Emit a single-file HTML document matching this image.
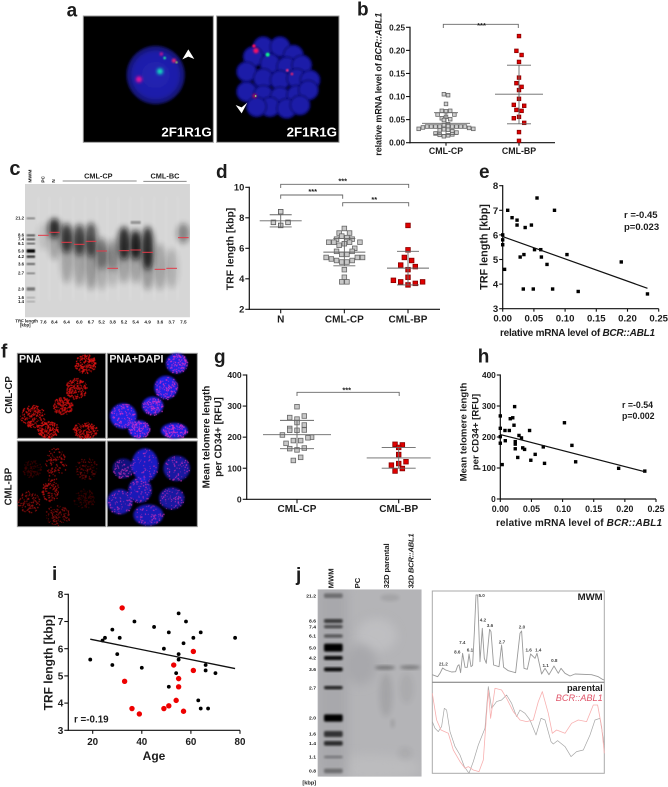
<!DOCTYPE html>
<html lang="en">
<head>
<meta charset="utf-8">
<title>Multi-panel telomere figure</title>
<style>
html,body{margin:0;padding:0;background:#fff;}
svg{display:block;font-family:"Liberation Sans",sans-serif;font-weight:bold;fill:#1c1c1c;}
</style>
</head>
<body>
<svg id="fig" xmlns="http://www.w3.org/2000/svg" width="668" height="787" viewBox="0 0 668 787">
<defs>
<filter id="b1" x="-10%" y="-10%" width="120%" height="120%"><feGaussianBlur stdDeviation="1"/></filter>
<filter id="b2" x="-30%" y="-30%" width="160%" height="160%"><feGaussianBlur stdDeviation="2"/></filter>
<filter id="b3" x="-30%" y="-30%" width="160%" height="160%"><feGaussianBlur stdDeviation="3"/></filter>
<filter id="b5" x="-40%" y="-40%" width="180%" height="180%"><feGaussianBlur stdDeviation="5"/></filter>
<filter id="b9" x="-100%" y="-60%" width="300%" height="220%"><feGaussianBlur stdDeviation="9"/></filter>
<filter id="b14" x="-80%" y="-40%" width="260%" height="180%"><feGaussianBlur stdDeviation="14"/></filter>
<radialGradient id="nuc"><stop offset="0" stop-color="#2222b4"/><stop offset=".75" stop-color="#1e1ea8"/><stop offset="1" stop-color="#101060"/></radialGradient>
<clipPath id="clipC"><rect x="75" y="72" width="495" height="400"/></clipPath>
<clipPath id="clipJ"><rect x="143" y="103" width="312" height="562"/></clipPath>
<clipPath id="clipAL"><rect x="250" y="48" width="390" height="379"/></clipPath>
<clipPath id="clipAR"><rect x="650" y="48" width="367" height="379"/></clipPath>
</defs>

<!-- PANEL A -->
<g id="panelA" transform="scale(0.3333)">
<text x="200" y="50" font-size="57">a</text>
<g clip-path="url(#clipAL)">
<rect x="250" y="48" width="390" height="379" fill="#000"/>
<circle cx="467" cy="225" r="88" fill="url(#nuc)" filter="url(#b3)"/>
<circle cx="417" cy="238" r="9" fill="#ff109a" filter="url(#b5)"/>
<circle cx="480" cy="214" r="9" fill="#10f0c0" filter="url(#b5)"/>
<circle cx="484" cy="162" r="5" fill="#d01090" filter="url(#b3)"/>
<circle cx="494" cy="174" r="4" fill="#20e0a0" filter="url(#b2)"/>
<circle cx="522" cy="182" r="6" fill="#ff2070" filter="url(#b3)"/>
<circle cx="530" cy="187" r="3" fill="#b0ff50" filter="url(#b2)"/>
<polygon points="565,148 583,177 565,170 547,178" fill="#fff"/>
</g>
<rect x="250" y="48" width="390" height="379" fill="none" stroke="#999" stroke-width="3"/>
<text x="484" y="410" font-size="40" fill="#fff">2F1R1G</text>
<g clip-path="url(#clipAR)">
<rect x="650" y="48" width="367" height="379" fill="#000"/>
<g id="blobs" filter="url(#b3)"></g>
<circle cx="768" cy="152" r="8" fill="#ff1060" filter="url(#b3)"/>
<circle cx="762" cy="138" r="5" fill="#ff1060" filter="url(#b2)"/>
<circle cx="803" cy="164" r="6" fill="#10f090" filter="url(#b2)"/>
<circle cx="862" cy="211" r="4" fill="#ff3080" filter="url(#b2)"/>
<circle cx="876" cy="222" r="4" fill="#e02070" filter="url(#b2)"/>
<circle cx="764" cy="288" r="7" fill="#a01060" filter="url(#b3)"/>
<circle cx="767" cy="288" r="2.5" fill="#80ff80" filter="url(#b1)"/>
<polygon points="725,340 707,315 725,322 742,308" fill="#fff"/>
</g>
<rect x="650" y="48" width="367" height="379" fill="none" stroke="#999" stroke-width="3"/>
<text x="860" y="410" font-size="40" fill="#fff">2F1R1G</text>
</g>

<!-- PANEL B -->
<g id="panelB">
<text x="357" y="15.7" font-size="19">b</text>
<text transform="translate(381.7,155.7) rotate(-90)" font-size="9" textLength="143">relative mRNA level of <tspan font-style="italic">BCR::ABL1</tspan></text>
</g>

<!-- PANEL C -->
<g id="panelC" transform="translate(0,160) scale(0.3333)">
<text x="28" y="45" font-size="60">c</text>
<g clip-path="url(#clipC)" id="gelC">
<rect x="75" y="72" width="495" height="400" fill="#d6d6d6"/>
</g>
<g font-size="14" text-anchor="middle">
<text transform="translate(94,68) rotate(-90)" text-anchor="start" font-size="15">MWM</text>
<text transform="translate(134,68) rotate(-90)" text-anchor="start">PC</text>
<text transform="translate(165,68) rotate(-90)" text-anchor="start">N</text>
<text x="295" y="55" font-size="22">CML-CP</text>
<text x="495" y="55" font-size="22">CML-BC</text>
</g>
<line x1="188" y1="63" x2="410" y2="63" stroke="#888" stroke-width="3"/>
<line x1="430" y1="64" x2="560" y2="64" stroke="#888" stroke-width="3"/>
<text x="46" y="487" font-size="13">TRF length</text>
<text x="60" y="500" font-size="13">[kbp]</text>
</g>

<!-- PANEL D -->
<g id="panelD">
<text x="216" y="178" font-size="19">d</text>
<text transform="translate(233.5,249) rotate(-90)" font-size="10.4" text-anchor="middle">TRF length [kbp]</text>
</g>

<!-- PANEL E -->
<g id="panelE">
<text x="479" y="178" font-size="19">e</text>
<text transform="translate(487.5,247) rotate(-90)" font-size="10.8" text-anchor="middle">TRF length [kbp]</text>
<text x="500" y="336" font-size="10" textLength="155">relative mRNA level of <tspan font-style="italic">BCR::ABL1</tspan></text>
<text x="624" y="218" font-size="9.5">r =-0.45</text>
<text x="624" y="230" font-size="9.5">p=0.023</text>
</g>

<!-- PANEL F -->
<g id="panelF" transform="translate(0,335) scale(0.3333)">
<text x="3" y="68" font-size="57">f</text>
<rect x="52" y="55" width="265" height="255" fill="#000" stroke="#999" stroke-width="3"/>
<rect x="322" y="55" width="270" height="255" fill="#000" stroke="#999" stroke-width="3"/>
<rect x="52" y="318" width="265" height="257" fill="#000" stroke="#999" stroke-width="3"/>
<rect x="322" y="318" width="270" height="257" fill="#000" stroke="#999" stroke-width="3"/>
<g id="cellsF"></g>
<text x="57" y="83" font-size="32" fill="#eee">PNA</text>
<text x="328" y="83" font-size="32" fill="#eee">PNA+DAPI</text>
<text transform="translate(36,180) rotate(-90)" font-size="29" text-anchor="middle">CML-CP</text>
<text transform="translate(35,455) rotate(-90)" font-size="29" text-anchor="middle">CML-BP</text>
</g>

<!-- PANEL G -->
<g id="panelG">
<text x="214" y="363" font-size="19">g</text>
<text transform="translate(209.5,437) rotate(-90)" font-size="10" text-anchor="middle">Mean telomere length</text>
<text transform="translate(221.5,437) rotate(-90)" font-size="10" text-anchor="middle">per CD34+ [RFU]</text>
</g>

<!-- PANEL H -->
<g id="panelH">
<text x="477.7" y="362.7" font-size="19">h</text>
<text transform="translate(466.5,432) rotate(-90)" font-size="9.6" text-anchor="middle">Mean telomere length</text>
<text transform="translate(478.5,432) rotate(-90)" font-size="9.6" text-anchor="middle">per CD34+ [RFU]</text>
<text x="496" y="526" font-size="10" textLength="166">relative mRNA level of <tspan font-style="italic">BCR::ABL1</tspan></text>
<text x="622" y="408" font-size="8.8">r =-0.54</text>
<text x="622" y="419" font-size="8.8">p=0.002</text>
</g>

<!-- PANEL I -->
<g id="panelI">
<text x="52" y="580" font-size="19">i</text>
<text transform="translate(52.5,662.7) rotate(-90)" font-size="12" text-anchor="middle">TRF length [kbp]</text>
<text x="154" y="760" font-size="12" text-anchor="middle">Age</text>
<text x="74" y="722.7" font-size="9.8">r =-0.19</text>
</g>

<!-- PANEL J GEL -->
<g id="panelJ" transform="translate(270,555) scale(0.3333)">
<text x="78" y="78" font-size="57">j</text>
<g clip-path="url(#clipJ)" id="gelJ">
<rect x="143" y="103" width="312" height="562" fill="#b4b4b7"/>
<ellipse cx="320" cy="240" rx="60" ry="50" fill="#c8c8ca" opacity=".55" filter="url(#b14)"/>
<ellipse cx="270" cy="330" rx="50" ry="60" fill="#a8a8ac" filter="url(#b14)"/>
<ellipse cx="300" cy="640" rx="150" ry="40" fill="#bcbcbe" filter="url(#b14)"/>
<rect x="143" y="103" width="90" height="562" fill="#a8a8ac" filter="url(#b14)"/>
</g>
<g font-size="23">
<text transform="translate(190,100) rotate(-90)">MWM</text>
<text transform="translate(270,100) rotate(-90)">PC</text>
<text transform="translate(357,100) rotate(-90)" textLength="135">32D parental</text>
<text transform="translate(430,100) rotate(-90)" textLength="165">32D <tspan font-style="italic">BCR::ABL1</tspan></text>
</g>
<text x="97" y="688" font-size="17">[kbp]</text>
</g>

<!-- PANEL J TRACES -->
<g id="panelJT">
<rect x="432.3" y="591" width="172" height="182.3" fill="#fff" stroke="#aaa" stroke-width="1"/>
<line x1="432.3" y1="682.3" x2="604.3" y2="682.3" stroke="#777" stroke-width="1"/>
<text x="602.7" y="600" font-size="9.6" text-anchor="end">MWM</text>
<text x="602.7" y="691" font-size="9.2" text-anchor="end">parental</text>
<text x="602.7" y="701" font-size="9.2" text-anchor="end" font-style="italic" fill="#e0566a" font-weight="normal">BCR::ABL1</text>
</g>

<script>
/* ---------- chart data ---------- */
const categoriesB = ['CML-CP','CML-BP'];
const yTicksB = [0,0.05,0.10,0.15,0.20,0.25];
const yTickLabelsB = ['0.00','0.05','0.10','0.15','0.20','0.25'];
const cpValuesB = [0.105,0.103,0.084,0.068,0.069,0.069,0.061,0.061,0.056,0.053,0.051,0.049,0.040,0.038,0.036,0.035,0.035,0.035,0.035,0.035,0.035,0.035,0.035,0.033,0.032,0.030,0.030,0.029,0.028,0.027,0.025,0.014,0.016,0.017,0.018,0.020,0.022];
const bpValuesB = [0.231,0.199,0.190,0.175,0.141,0.129,0.121,0.114,0.095,0.082,0.080,0.071,0.069,0.056,0.053,0.043,0.023,0.004];
const cpSummaryB = [0.042,0.065,0.018];
const bpSummaryB = [0.105,0.168,0.041];

const categoriesD = ['N','CML-CP','CML-BP'];
const yTicksD = [2,4,6,8,10];
const yTickLabelsD = ['2','4','6','8','10'];
const nValuesD = [8.4,7.5,7.7,7.7];
const cpValuesD = [7.3,7.0,7.0,6.8,6.7,6.6,6.6,6.3,6.2,6.4,6.4,6.0,6.4,6.4,5.6,5.6,5.8,5.8,5.1,5.1,5.2,5.2,5.3,5.4,5.4,5.4,4.6,4.1,3.8,3.8];
const bpValuesD = [7.5,5.9,5.4,5.2,4.6,4.9,4.8,4.1,3.6,3.8,3.7,3.9,3.8];
const nSummaryD = [7.8,8.2,7.4];
const cpSummaryD = [5.75,6.65,4.85];
const bpSummaryD = [4.7,5.8,3.6];

const xTicksScatter = [0,0.05,0.10,0.15,0.20,0.25];
const xTickLabelsScatter = ['0.00','0.05','0.10','0.15','0.20','0.25'];
const yTicksE = [3,4,5,6,7,8];
const yTickLabelsE = ['3','4','5','6','7','8'];
const mrnaE = [0.055,0.083,0.008,0.015,0.023,0.023,0.046,0.036,0,0,0,0.003,0.051,0.061,0.103,0.034,0.028,0.062,0.071,0.190,0.033,0.049,0.080,0.121,0.232];
const trfE = [7.5,7.0,7.0,6.7,6.6,6.4,6.4,6.3,6.0,5.8,5.6,4.6,5.4,5.4,5.2,5.2,5.1,5.1,4.8,4.9,3.8,3.8,3.8,3.7,3.6];
const fitXE = [0,0.232];
const fitYE = [5.93,3.83];

const categoriesG = ['CML-CP','CML-BP'];
const yTicksG = [0,100,200,300,400];
const yTickLabelsG = ['0','100','200','300','400'];
const cpValuesG = [298,258,263,268,247,228,239,222,222,223,207,200,189,189,180,198,159,163,165,125,135];
const bpValuesG = [177,175,167,144,115,110,121,91,99];
const cpSummaryG = [208,254,163];
const bpSummaryG = [133,167,100];

const yTicksH = [0,100,200,300,400];
const yTickLabelsH = ['0','100','200','300','400'];
const mrnaH = [0.023,0,0.016,0.020,0.022,0.103,0.0075,0.0145,0,0.047,0,0.030,0.034,0.008,0.024,0.024,0,0.115,0.024,0.036,0.039,0.069,0.056,0.028,0.049,0.071,0.003,0.121,0.190,0.232];
const rfuH = [298,268,259,262,238,246,221,221,228,221,201,205,197,188,185,177,180,173,162,165,160,168,144,134,125,115,111,120,99,90];
const fitXH = [0,0.232];
const fitYH = [208,88];

const xTicksI = [20,40,60,80];
const xTickLabelsI = ['20','40','60','80'];
const yTicksI = [3,4,5,6,7,8];
const yTickLabelsI = ['3','4','5','6','7','8'];
const ageBlackI = [19,24,25,28,28,30,31,37,40,45,49,51,51,54,55,55,55,57,58,61,63,64,64,66,66,67,70,78];
const trfBlackI = [5.6,6.3,6.4,6.7,5.4,5.8,6.4,7.0,5.3,6.8,6.0,6.6,4.6,5.1,7.3,5.8,5.6,6.2,7.0,6.4,4.1,6.6,3.8,5.4,5.2,3.8,5.1,6.4];
const ageRedI = [32,33,36,39,49,51,53,54,55,55,57,61,61];
const trfRedI = [7.5,4.8,3.8,3.6,3.8,3.9,5.4,4.1,4.9,4.6,3.7,5.9,5.2];
const fitXI = [19,78];
const fitYI = [6.35,5.27];

const mwmMigration = [0,16,23,31,40,58,70,76,80,85,91,98,105,110,116,121,126,131,136,143,150,156,162,172,176,184,200,208,214,228,250,263,268,275,285,295,308,314,328,338,350,365,378,386,398,413,428,478,498,510,516];
const mwmIntensity = [16,10,20,36,30,24,25,42,46,22,80,38,38,78,40,44,140,255,255,55,155,65,50,152,145,45,40,105,38,28,22,140,147,35,32,78,65,80,18,35,16,42,20,35,20,12,18,16,10,2,0];
const parentalMigration = [0,8,18,28,36,43,53,68,83,96,110,123,138,158,168,178,193,208,223,238,253,263,278,293,311,326,338,356,363,376,398,416,433,453,473,488,503,516];
const parentalIntensity = [155,135,125,140,195,190,125,80,55,20,0,35,85,135,260,195,215,220,235,210,170,190,180,160,115,165,160,95,88,98,80,50,65,70,115,160,165,85];
const bcrMigration = [0,13,26,48,63,83,98,108,123,140,153,168,175,188,208,223,243,263,283,303,318,330,348,360,373,398,418,438,463,483,496,508,516];
const bcrIntensity = [240,160,130,120,70,35,15,20,10,5,40,250,165,255,250,225,185,160,155,160,215,245,180,120,130,120,150,160,155,205,205,140,60];
const mwmPeakLabels = ['21.2','8.6','7.4','6.1','5.0','4.2','3.6','2.7','2.0','1.6','1.4','1.1','0.8'];
const mwmPeakMigration = [33,75,90,113,148,152,173,209,269,289,318,340,366];
const mwmPeakIntensity = [44,79,108,86,249,176,159,110,154,85,85,39,54];

const gelCLaneTrf = [7.6,8.4,6.4,6.0,6.7,5.2,3.8,5.2,5.4,4.9,3.6,3.7,7.5];

/* ---------- helpers ---------- */
const NS = 'http://www.w3.org/2000/svg';
function mk(tag, attrs, parent) {
  const e = document.createElementNS(NS, tag);
  for (const k in attrs) e.setAttribute(k, attrs[k]);
  parent.appendChild(e);
  return e;
}
function linear(d0, d1, r0, r1) { return v => r0 + (v - d0) * (r1 - r0) / (d1 - d0); }

function axisY(g, x, scale, ticks, labels, fs, tickLen) {
  const ax = mk('line', {x1:x, x2:x, y1:scale(ticks[0]) + 0.6, y2:scale(ticks[ticks.length-1]) - 0.6, stroke:'#111', 'stroke-width':1.2}, g);
  
  
  ticks.forEach((t, i) => {
    const tk = mk('line', {x1:x - tickLen, x2:x, y1:scale(t), y2:scale(t), stroke:'#111', 'stroke-width':1.1}, g);
    
    
    const lb = mk('text', {x:x - tickLen - 1, y:scale(t) + fs * 0.36, 'font-size':fs, 'text-anchor':'end'}, g);
    lb.textContent = labels[i];
    
    
  });
}
function axisX(g, y, x0, x1, positions, labels, fs, tickLen, labelY) {
  const ax = mk('line', {x1:x0 - 0.6, x2:x1, y1:y, y2:y, stroke:'#111', 'stroke-width':1.2}, g);
  
  
  positions.forEach((p, i) => {
    const tk = mk('line', {x1:p, x2:p, y1:y, y2:y + tickLen, stroke:'#111', 'stroke-width':1.1}, g);
    
    
    const lb = mk('text', {x:p, y:labelY, 'font-size':fs, 'text-anchor':'middle'}, g);
    lb.textContent = labels[i];
    
    
  });
}
/* Prism-style binned swarm: values in a bin spread symmetrically, in array order */
function swarm(values, binWidth) {
  const bins = {}, out = [];
  values.forEach((v, i) => {
    const b = Math.floor(v / binWidth + 1e-9);
    (bins[b] = bins[b] || []).push(i);
  });
  for (const b in bins) {
    const idx = bins[b], n = idx.length;
    idx.forEach((vi, k) => {
      let off;
      if (n % 2) off = k === 0 ? 0 : (k % 2 ? -(k + 1) / 2 : k / 2);
      else off = (k % 2 ? 1 : -1) * (Math.floor(k / 2) + 0.5);
      out[vi] = off;
    });
  }
  return out;
}
function drawSwarm(g, values, cx, yScale, binWidth, slot, size, fill, stroke) {
  const offs = swarm(values, binWidth);
  values.forEach((v, i) => {
    const r = mk('rect', {x:cx + offs[i] * slot - size / 2, y:yScale(v) - size / 2, width:size, height:size, fill:fill, stroke:stroke, 'stroke-width':0.8}, g);
    
    
  });
}
function drawSummary(g, cx, yScale, summary, halfMean, halfSd) {
  const sty = {stroke:'#666', 'stroke-width':0.9};
  const v = mk('line', Object.assign({x1:cx, x2:cx, y1:yScale(summary[1]), y2:yScale(summary[2])}, sty), g);
  
  
  const m = mk('line', Object.assign({x1:cx - halfMean, x2:cx + halfMean, y1:yScale(summary[0]), y2:yScale(summary[0])}, sty), g);
  
  
  [1, 2].forEach(k => {
    const s = mk('line', Object.assign({x1:cx - halfSd, x2:cx + halfSd, y1:yScale(summary[k]), y2:yScale(summary[k])}, sty), g);
    
    
  });
}
function bracket(g, x1, x2, y, drop, stars, starX, starY, fs) {
  const p = mk('path', {d:`M${x1} ${y + drop}V${y}H${x2}V${y + drop}`, fill:'none', stroke:'#666', 'stroke-width':0.9}, g);
  
  
  const t = mk('text', {x:starX, y:starY, 'font-size':fs, 'text-anchor':'middle'}, g);
  t.textContent = stars;
  
  
}
function scatterSquares(g, xs, ys, xScale, yScale, size) {
  xs.forEach((v, i) => {
    const r = mk('rect', {x:xScale(v) - size / 2, y:yScale(ys[i]) - size / 2, width:size, height:size, fill:'#000'}, g);
    
    
  });
}
function fitLine(g, xs, ys, xScale, yScale, w) {
  const l = mk('line', {x1:xScale(xs[0]), y1:yScale(ys[0]), x2:xScale(xs[1]), y2:yScale(ys[1]), stroke:'#111', 'stroke-width':w}, g);
  
  
}
const $ = id => document.getElementById(id);

/* ---------- panel a: blobs of right nucleus (micrograph) ---------- */
[[790,140],[840,140],[880,165],[760,170],[810,190],[860,200],[905,195],[740,215],[790,235],[840,240],[890,235],[930,240],[740,275],[790,285],[840,290],[890,285],[925,270],[810,320],[860,325],[900,315],[770,320]].forEach(c => {
  const o = mk('circle', {cx:c[0], cy:c[1], r:29, fill:'#1a1aa8', stroke:'#10107a', 'stroke-width':6}, $('blobs'));
  
  
});

/* ---------- panel c gel (photo) ---------- */
(function () {
  const gel = $('gelC');
  const lanes = [[130,230,40,.1],[163,240,60,.25],[163,205,30,.8],[200,290,80,.25],[200,235,45,.75],[238,300,80,.25],[238,240,48,.7],[273,310,80,.3],[273,240,52,.65],[305,320,70,.2],[305,280,48,.4],[338,320,60,.16],[338,285,48,.28],[372,310,60,.25],[372,250,50,.85],[407,310,60,.25],[407,255,45,.9],[443,330,60,.3],[443,265,65,.85],[480,320,70,.24],[515,325,60,.18],[550,220,30,.4]];
  lanes.forEach(l => {
    const smear = mk('ellipse', {cx:l[0], cy:l[1], rx:19, ry:l[2], fill:'#111', opacity:l[3]}, gel);
    smear.setAttribute('filter', 'url(#b9)');
    
    
  });
  [115,148,181,219,255,290,322,355,390,425,462,498,533].forEach(x => {
    const gap = mk('rect', {x:x - 2, y:110, width:5, height:310, fill:'#f2f2f2', opacity:.28, filter:'url(#b5)'}, gel);
    
    
  });
  const ladder = [[175,6,.35],[226,6,.6],[238,6,.6],[251,5,.55],[273,10,1],[290,7,.75],[312,6,.5],[340,5,.4],[387,10,.45],[413,5,.2],[425,5,.2]];
  ladder.forEach(b => {
    const r = mk('rect', {x:80, y:b[0] - b[1] / 2, width:25, height:b[1], fill:'#000', opacity:b[2], filter:'url(#b2)'}, gel);
    
    
  });
  const upper = mk('rect', {x:392, y:183, width:30, height:9, fill:'#666', opacity:.6, filter:'url(#b2)'}, gel);
  
  
  const laneX = [130,163,200,238,273,305,338,372,407,443,480,515,550];
  const redY = [226,217,247,253,244,273,325,272,270,277,328,325,233];
  const panel = $('panelC');
  laneX.forEach((x, i) => {
    const r = mk('line', {x1:x - 16, x2:x + 16, y1:redY[i], y2:redY[i], stroke:'#e23a48', 'stroke-width':3}, panel);
    
    
    const t = mk('text', {x:x, y:490, 'font-size':14, 'text-anchor':'middle'}, panel);
    t.textContent = gelCLaneTrf[i].toFixed(1);
    
    
  });
  [['21.2',175],['8.6',226],['7.4',238],['6.1',251],['5.0',273],['4.2',290],['3.6',312],['2.7',340],['2.0',387],['1.6',413],['1.4',425]].forEach(a => {
    const t = mk('text', {x:72, y:a[1] + 4, 'font-size':13, 'text-anchor':'end'}, panel);
    t.textContent = a[0];
    
    
  });
})();

/* ---------- panel b ---------- */
(function () {
  const g = $('panelB');
  const y = linear(0, 0.25, 142.7, 27.3);
  const xc = linear(0, 1, 446, 519);
  axisY(g, 410, y, yTicksB, yTickLabelsB, 8.2, 4);
  axisX(g, 142.7, 410, 555, [xc(0), xc(1)], categoriesB, 8.8, 3, 154);
  drawSwarm(g, cpValuesB, xc(0), y, 0.01, 4.2, 3.6, '#d0d0d0', '#666');
  drawSwarm(g, bpValuesB, xc(1), y, 0.02, 5.2, 3.6, '#e00000', '#8a0000');
  drawSummary(g, xc(0), y, cpSummaryB, 24, 12);
  drawSummary(g, xc(1), y, bpSummaryB, 24, 12);
  bracket(g, 443.3, 518.3, 24.3, 3.7, '***', 481.5, 28, 7.5);
})();

/* ---------- panel d ---------- */
(function () {
  const g = $('panelD');
  const y = linear(2, 10, 309.3, 187.3);
  const xc = linear(0, 2, 280.7, 408);
  axisY(g, 249.3, y, yTicksD, yTickLabelsD, 9.4, 4);
  axisX(g, 309.3, 249.3, 440, [xc(0), xc(1), xc(2)], categoriesD, 10, 4, 322.7);
  drawSwarm(g, nValuesD, xc(0), y, 0.5, 7.3, 4.6, '#d0d0d0', '#555');
  drawSwarm(g, cpValuesD, xc(1), y, 0.5, 5.2, 4.6, '#c8c8c8', '#666');
  drawSwarm(g, bpValuesD, xc(2), y, 0.5, 7.3, 4.6, '#e00000', '#8a0000');
  drawSummary(g, xc(0), y, nSummaryD, 21, 11);
  drawSummary(g, xc(1), y, cpSummaryD, 21, 11);
  drawSummary(g, xc(2), y, bpSummaryD, 21, 11);
  bracket(g, xc(0), xc(2) + 0.7, 184.3, 3.7, '***', 342.7, 183.5, 7.5);
  bracket(g, xc(0), 342.7, 195, 3.7, '***', 312.7, 194.2, 7.5);
  bracket(g, 342.7, xc(2) + 0.7, 202.7, 3.7, '**', 374.3, 202, 7.5);
})();

/* ---------- panel e ---------- */
(function () {
  const g = $('panelE');
  const x = linear(0, 0.25, 502.7, 658.7);
  const y = linear(3, 8, 308.7, 185.7);
  axisY(g, 502.7, y, yTicksE, yTickLabelsE, 9.6, 3.5);
  axisX(g, 308.7, 502.7, 658.7, xTicksScatter.map(x), xTickLabelsScatter, 9.6, 3, 321.7);
  scatterSquares(g, mrnaE, trfE, x, y, 3.4);
  fitLine(g, fitXE, fitYE, x, y, 1.2);
})();

/* ---------- panel f (micrograph) ---------- */
(function () {
  const host = $('cellsF');
  host.setAttribute('filter', 'url(#b1)');
  let state = 424242;
  function rnd() {
    state = (state + 0x6D2B79F5) | 0;
    let t = Math.imul(state ^ (state >>> 15), 1 | state);
    t = (t + Math.imul(t ^ (t >>> 7), 61 | t)) ^ t;
    return ((t ^ (t >>> 14)) >>> 0) / 4294967296;
  }
  function dots(cx, cy, rx, ry, n, color, op) {
    let d = '';
    for (let i = 0; i < n; i++) {
      const a = rnd() * 6.2832, r = Math.sqrt(rnd());
      const s = 2 + rnd() * 2.2;
      d += 'M' + (cx + Math.cos(a) * r * rx).toFixed(1) + ' ' + (cy + Math.sin(a) * r * ry).toFixed(1) + 'h' + s.toFixed(1) + 'v' + s.toFixed(1) + 'h-' + s.toFixed(1) + 'z';
    }
    const p = mk('path', {d:d, fill:color, opacity:op}, host);
    
    
  }
  function nucleus(cx, cy, rx, ry, op) {
    const e = mk('ellipse', {cx:cx, cy:cy, rx:rx, ry:ry, fill:'#2424e6', opacity:op, filter:'url(#b3)'}, host);
    
    
  }
  const topCells = [[255,85,33,29,1],[228,160,33,32,.95],[187,212,30,27,.9],[97,243,37,35,.95],[143,283,33,26,1],[255,285,38,25,.95]];
  const topBlue = [[530,85,32,30,1],[498,157,35,35,1],[458,212,32,27,1],[370,243,40,38,1],[417,283,32,27,1],[523,287,40,23,1]];
  const botCells = [[95,400,28,28,.3],[165,385,33,48,.8],[258,400,33,33,.5],[150,465,26,35,.85],[85,500,33,33,.7],[250,490,33,30,.3],[172,540,38,30,.65]];
  const botBlue = [[370,400,32,30,.55],[435,390,40,50,.85],[530,400,40,38,.7],[420,465,35,38,.8],[360,500,38,38,.75],[515,490,38,33,.7],[445,540,45,32,.8]];
  topCells.forEach(c => dots(c[0], c[1], c[2], c[3], 210, '#d81212', c[4]));
  botCells.forEach(c => dots(c[0], c[1], c[2], c[3], 120, '#c81212', c[4]));
  topBlue.forEach(c => { nucleus(c[0], c[1], c[2], c[3], c[4]); dots(c[0], c[1], c[2], c[3], 110, '#e030c8', .85); });
  botBlue.forEach(c => { nucleus(c[0], c[1], c[2], c[3], c[4]); dots(c[0], c[1], c[2], c[3], 70, '#d030b8', .8); });
})();

/* ---------- panel g ---------- */
(function () {
  const g = $('panelG');
  const y = linear(0, 400, 499.3, 375);
  const xc = linear(0, 1, 297, 398.7);
  axisY(g, 246.7, y, yTicksG, yTickLabelsG, 8.6, 4);
  axisX(g, 499.3, 246.7, 431, [xc(0), xc(1)], categoriesG, 10, 4, 512);
  drawSwarm(g, cpValuesG, xc(0), y, 25, 7.3, 4.6, '#c8c8c8', '#666');
  drawSwarm(g, bpValuesG, xc(1), y, 25, 7.3, 4.6, '#e00000', '#8a0000');
  drawSummary(g, xc(0), y, cpSummaryG, 34, 17);
  drawSummary(g, xc(1), y, bpSummaryG, 32, 17);
  bracket(g, xc(0), xc(1) + 0.5, 392.3, 3.7, '***', 346.7, 392.5, 7.5);
})();

/* ---------- panel h ---------- */
(function () {
  const g = $('panelH');
  const x = linear(0, 0.25, 500.3, 656);
  const y = linear(0, 400, 499, 375);
  axisY(g, 500.3, y, yTicksH, yTickLabelsH, 8.3, 3.5);
  axisX(g, 499, 500.3, 656, xTicksScatter.map(x), xTickLabelsScatter, 8.8, 3, 512);
  scatterSquares(g, mrnaH, rfuH, x, y, 3.4);
  fitLine(g, fitXH, fitYH, x, y, 1.2);
})();

/* ---------- panel i ---------- */
(function () {
  const g = $('panelI');
  const x = linear(20, 80, 92.7, 240);
  const y = linear(3, 8, 730.3, 594.3);
  axisY(g, 68.3, y, yTicksI, yTickLabelsI, 10, 4);
  axisX(g, 730.3, 68.3, 240, xTicksI.map(x), xTickLabelsI, 9.8, 3.5, 745);
  ageBlackI.forEach((a, i) => {
    const c = mk('circle', {cx:x(a), cy:y(trfBlackI[i]), r:1.9, fill:'#000'}, g);
    
    
  });
  ageRedI.forEach((a, i) => {
    const c = mk('circle', {cx:x(a), cy:y(trfRedI[i]), r:2.7, fill:'#ee0000'}, g);
    
    
  });
  fitLine(g, fitXI, fitYI, x, y, 1.3);
})();

/* ---------- panel j gel (photo) ---------- */
(function () {
  const gel = $('gelJ'), panel = $('panelJ');
  const bands = [['21.2',122,14,.35],['8.6',198,12,.65],['7.4',215,10,.55],['6.1',243,10,.5],['5.0',278,24,1],['4.2',309,12,.95],['3.6',343,12,.95],['2.7',398,10,.8],['2.0',489,22,1],['1.6',537,18,.7],['1.4',565,14,.75],['1.1',606,8,.28],['0.8',648,14,.35]];
  bands.forEach(b => {
    const r = mk('rect', {x:162, y:b[1] - b[2] / 2, width:56, height:b[2], rx:5, fill:'#000', opacity:b[3], filter:'url(#b3)'}, gel);
    
    
    const t = mk('text', {x:138, y:b[1] + 5, 'font-size':15, 'text-anchor':'end'}, panel);
    t.textContent = b[0];
    
    
  });
  /* cx, cy, rx, ry, opacity, filter */
  [[345,338,30,6,.42,'b5'],[420,337,30,6,.38,'b5'],[360,128,28,10,.1,'b5'],[348,420,18,65,.1,'b9'],[410,400,20,45,.06,'b9'],[368,505,6,14,.12,'b5'],[405,595,20,18,.06,'b9']].forEach(s => {
    const r = mk('ellipse', {cx:s[0], cy:s[1], rx:s[2], ry:s[3], fill:'#222', opacity:s[4], filter:'url(#' + s[5] + ')'}, gel);
    
    
  });
})();

/* ---------- panel j densitometry ---------- */
(function () {
  const g = $('panelJT');
  const x = linear(0, 516, 432.3, 604.3);
  const yTop = linear(0, 300, 680, 580);
  const yBot = linear(0, 300, 773.3, 673.3);
  function trace(ms, is, yS, color, w) {
    const d = ms.map((m, i) => (i ? 'L' : 'M') + x(m).toFixed(1) + ' ' + yS(is[i]).toFixed(1)).join('');
    return mk('path', {d:d, fill:'none', stroke:color, 'stroke-width':w, 'stroke-linejoin':'round'}, g);
  }
  const mwm = trace(mwmMigration, mwmIntensity, yTop, '#9a9a9a', 0.9);
  
  
  const par = trace(parentalMigration, parentalIntensity, yBot, '#a6a6a6', 0.7);
  
  
  const bcr = trace(bcrMigration, bcrIntensity, yBot, '#f8b0b0', 0.8);
  
  
  mwmPeakLabels.forEach((l, i) => {
    const t = mk('text', {x:x(mwmPeakMigration[i]), y:yTop(mwmPeakIntensity[i]), 'font-size':4.6, 'text-anchor':'middle', fill:'#444'}, g);
    t.textContent = l;
    
    
  });
})();
</script>
</svg>
</body>
</html>
